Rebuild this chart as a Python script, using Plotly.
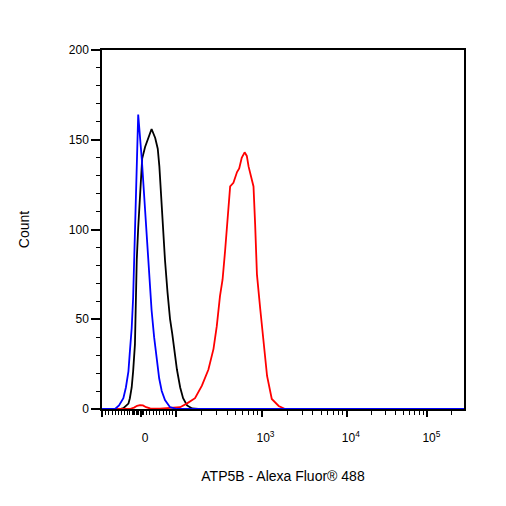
import numpy as np
import plotly.graph_objects as go

# ---- data (x in display channels of the biexponential scale, 0..1000) ----
blue_x = [0, 36, 47, 59, 66, 73, 77, 82, 86, 89, 96, 100, 110, 119, 128, 137, 144, 151, 158, 165, 174, 188, 207, 1000]
blue_y = [0, 0, 2, 6, 12, 21, 32, 45, 62, 83, 129, 164, 139, 111, 83, 55, 40, 27, 17, 10, 5, 1, 0, 0]

black_x = [0, 50, 59, 66, 73, 77, 82, 86, 91, 93, 96, 100, 105, 111, 119, 128, 137, 147, 154, 158.5, 163, 168,
           174, 181, 188, 194, 202, 207, 216, 224, 235, 249, 266, 1000]
black_y = [0, 0, 0.5, 1.5, 3, 6, 12, 21, 36, 55, 83, 101, 120, 139.5, 146, 151.6, 156, 151, 145, 135, 118, 101,
           83, 65, 50, 42, 28, 22, 12, 6, 2, 0.3, 0, 0]

red_x = [0, 77, 88.5, 97, 105, 113, 122, 133, 160, 202, 216, 234, 257, 276, 294, 308, 317, 326, 333, 340, 348,
         354, 363, 373, 379, 386, 394, 400, 405, 414, 418.5, 423, 428, 437, 446, 456, 469, 488, 506, 1000]
red_y = [0, 0, 0.8, 1.8, 2.2, 2.0, 1.0, 0.3, 0.2, 0.5, 1, 3, 6, 13, 22, 33.5, 46, 63, 72, 88, 112,
         124, 126, 132, 134, 140, 143, 141, 135, 128, 124, 103, 75, 56, 37, 18.4, 5.6, 1.7, 0, 0]

# ---- axis ticks (display-channel positions) ----
major_vals = [0, 108, 203.3, 440.7, 676.3, 899]
major_text = ["", "0", "", "10<sup>3</sup>", "10<sup>4</sup>", "10<sup>5</sup>"]
linear_minor = [9.1, 18.5, 27.7, 36.8, 46.2, 53.4, 60.9, 70, 76.6, 83, 86, 88.5, 91, 94, 97, 99.6, 102, 105,
                111, 113.4, 122.5, 132, 141, 150, 159.6, 168.7, 177.9, 187.3, 196]
decades = [(203.3, 440.7), (440.7, 676.3), (676.3, 899), (899, 1121.7)]
log_minor = []
for lo, hi in decades:
    for m in range(2, 10):
        v = lo + (hi - lo) * np.log10(m)
        if v < 1000:
            log_minor.append(round(float(v), 1))
minor_vals = linear_minor + log_minor

FONT = "Liberation Sans, Arial, sans-serif"

fig = go.Figure()
fig.add_trace(go.Scatter(x=black_x, y=black_y, mode="lines", line=dict(color="#000000", width=1.8),
                         showlegend=False, hoverinfo="skip"))
fig.add_trace(go.Scatter(x=red_x, y=red_y, mode="lines", line=dict(color="#ff0000", width=1.8),
                         showlegend=False, hoverinfo="skip"))
fig.add_trace(go.Scatter(x=blue_x, y=blue_y, mode="lines", line=dict(color="#0000ff", width=1.8),
                         showlegend=False, hoverinfo="skip"))

fig.update_layout(
    width=506, height=506,
    margin=dict(l=94, r=50, t=42, b=105),
    paper_bgcolor="white", plot_bgcolor="white",
    font=dict(family=FONT, size=12, color="#000000"),
    xaxis=dict(
        range=[0, 1000], showgrid=False, zeroline=False,
        showline=True, linecolor="#000000", linewidth=1.5, mirror=True,
        tickmode="array", tickvals=major_vals, ticktext=major_text,
        ticks="outside", ticklen=6, tickwidth=2, tickcolor="#000000",
        ticklabelshift=4, ticklabelstandoff=11,
        tickfont=dict(family=FONT, size=12),
        minor=dict(tickmode="array", tickvals=minor_vals, ticks="outside", ticklen=4, tickwidth=1,
                   tickcolor="#000000", showgrid=False),
        title=dict(text="ATP5B - Alexa Fluor® 488", font=dict(family=FONT, size=14), standoff=27),
    ),
    yaxis=dict(
        range=[0, 200], showgrid=False, zeroline=False,
        showline=True, linecolor="#000000", linewidth=1.5, mirror=True,
        tickmode="linear", tick0=0, dtick=50,
        ticks="outside", ticklen=9, tickwidth=2, tickcolor="#000000",
        tickfont=dict(family=FONT, size=12),
        minor=dict(dtick=10, ticks="outside", ticklen=4, tickwidth=1, tickcolor="#000000", showgrid=False),
        title=dict(text="Count", font=dict(family=FONT, size=14), standoff=36),
    ),
)

fig.write_html("out.html")
